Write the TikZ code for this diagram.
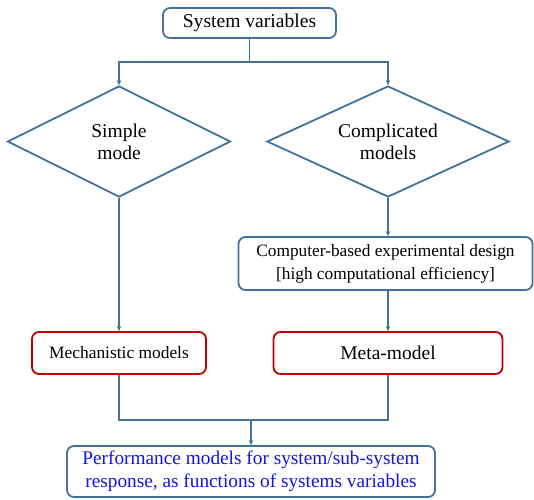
\documentclass[tikz,border=0pt]{standalone}
\usepackage{fontspec}
\setmainfont{Liberation Serif}
\usetikzlibrary{shapes.geometric,arrows.meta}
\definecolor{lineblue}{RGB}{65,113,156}
\definecolor{boxred}{RGB}{192,0,0}
\definecolor{textblue}{RGB}{20,20,230}
\begin{document}
\begin{tikzpicture}[x=1pt, y=-1pt,
  line width=1.8pt,
  every node/.style = {draw=lineblue, inner sep=2pt, align=center},
  bluebox/.style = {rectangle, rounded corners=7pt},
  redbox/.style = {rectangle, rounded corners=7pt, draw=boxred},
  decision/.style = {diamond, aspect=2},
  link/.style = {draw=lineblue},
  arr/.style = {link, -{Stealth[length=5pt, width=4.5pt]}},
  ]
  \useasboundingbox (0,0) rectangle (534,499);
  \node[bluebox, minimum width=173pt, minimum height=30pt, font=\fontsize{19.6}{23}\selectfont] (nSys) at (249.5,23) {System variables};
  \node[decision, minimum width=223pt, minimum height=111pt, font=\fontsize{19.5}{22}\selectfont] (nSimple) at (119,141.5) {Simple\\mode};
  \node[decision, minimum width=242pt, minimum height=111pt, font=\fontsize{19.5}{22}\selectfont] (nComp) at (388,141.5) {Complicated\\models};
  \node[bluebox, minimum width=294pt, minimum height=53pt, font=\fontsize{17.3}{23}\selectfont] (nDesign) at (385.5,263.5) {Computer-based experimental design\\{}[high computational efficiency]};
  \node[redbox, minimum width=174pt, minimum height=42pt, font=\fontsize{17.4}{20}\selectfont] (nMech) at (119,353) {Mechanistic models};
  \node[redbox, minimum width=229pt, minimum height=42pt, font=\fontsize{19.5}{22}\selectfont] (nMeta) at (388,353) {Meta-model};
  \node[bluebox, minimum width=368pt, minimum height=51pt, font=\fontsize{19.3}{23.5}\selectfont, text=textblue] (nPerf) at (251,471.5) {Performance models for system/sub-system\\response, as functions of systems variables};
  \coordinate (cSplit) at (249.5,62);
  \coordinate (cJoin) at (251,420);
  \draw[link] (nSys.south) -- (cSplit);
  \draw[arr] (cSplit) -| (nSimple.north);
  \draw[arr] (cSplit) -| (nComp.north);
  \draw[arr] (nSimple.south) -- (nMech.north);
  \draw[arr] (nComp.south) -- (nComp.south |- nDesign.north);
  \draw[arr] (nDesign.south -| nMeta.north) -- (nMeta.north);
  \draw[link] (nMech.south) |- (cJoin) -| (nMeta.south);
  \draw[arr] (cJoin) -- (nPerf.north);
\end{tikzpicture}
\end{document}
